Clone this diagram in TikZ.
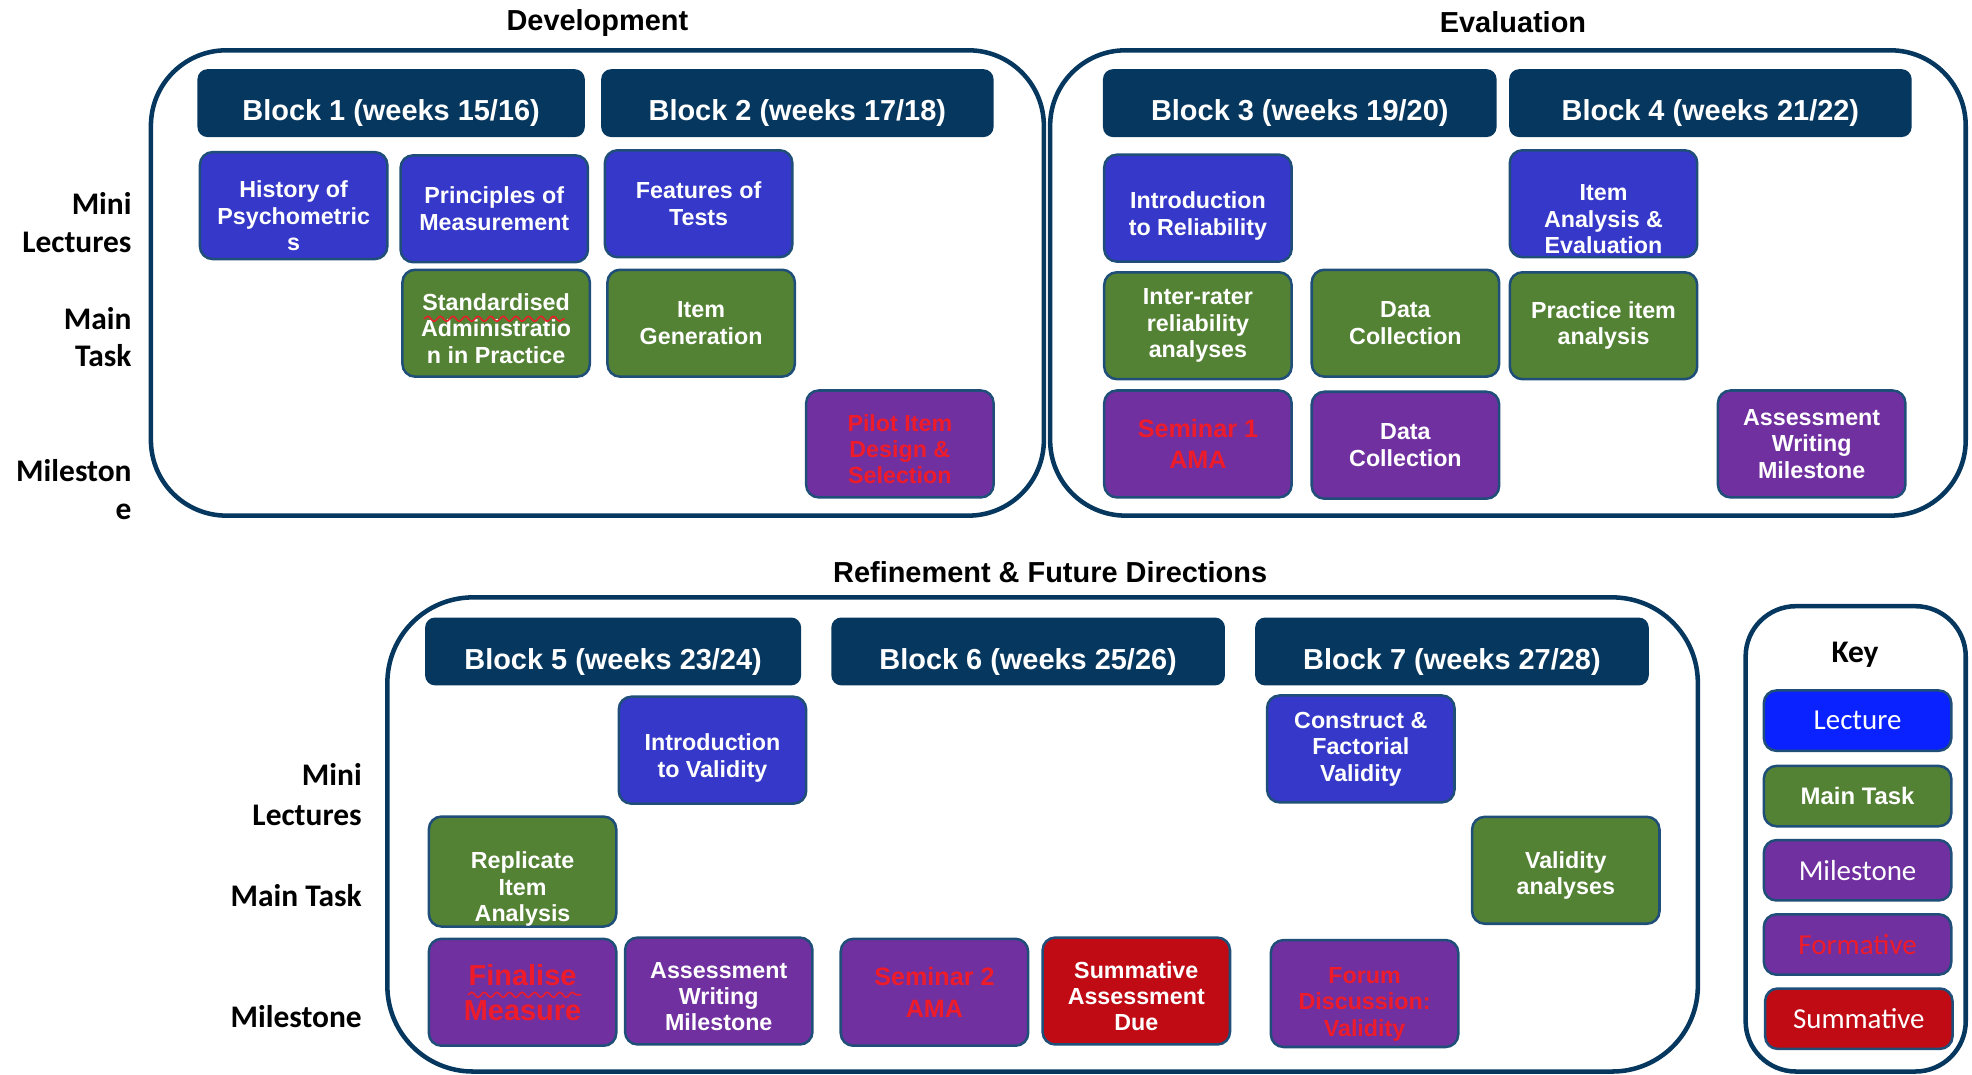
\documentclass[tikz,border=0pt]{standalone}
\usepackage{fontspec}
\setmainfont{Liberation Sans}
\newfontfamily\calibri{Carlito}
\usepackage{xcolor}
\usepackage{tikz}
\usetikzlibrary{positioning, decorations.pathmorphing}
\definecolor{navy}{HTML}{06375E}
\definecolor{lecblue}{HTML}{3538C8}
\definecolor{taskgreen}{HTML}{548235}
\definecolor{mspurple}{HTML}{7030A0}
\definecolor{summred}{HTML}{C00A14}
\definecolor{keyblue}{HTML}{0A22FF}
\definecolor{cardedge}{HTML}{1F4E79}
\definecolor{formred}{HTML}{EE1C2A}
\newcommand{\pushdown}[1]{\rule{0pt}{#1}}
\begin{document}
\begin{tikzpicture}[x=0.5pt, y=-0.5pt]
					\tikzstyle{panel}=[draw=navy, line width=1.8pt, rounded corners=30pt, inner sep=0pt]
					\tikzstyle{block}=[fill=navy, rounded corners=4pt, text=white, font=\bfseries\fontsize{11.5}{13}\selectfont, minimum height=27pt, inner sep=0pt, text height=14pt, text depth=0pt]
					\tikzstyle{card}=[draw=cardedge, line width=1pt, rounded corners=5pt, minimum width=74.5pt, minimum height=42.5pt, inner sep=0pt, align=center, text=white, font=\bfseries\fontsize{9.25}{10.5}\selectfont]
					\tikzstyle{lecture}=[card, fill=lecblue]
					\tikzstyle{task}=[card, fill=taskgreen]
					\tikzstyle{milestone}=[card, fill=mspurple]
					\tikzstyle{formative}=[milestone, text=formred]
					\tikzstyle{summative}=[card, fill=summred]
					\tikzstyle{keybox}=[card, minimum height=24pt, font=\calibri\fontsize{11.5}{13}\selectfont]
					\tikzstyle{rowlabel}=[anchor=east, align=right, inner sep=0pt, font=\calibri\bfseries\fontsize{12.5}{15}\selectfont]
					\tikzstyle{title}=[inner sep=0pt, font=\bfseries\fontsize{11.5}{13}\selectfont]
					\tikzstyle{squiggle}=[draw=formred, line width=0.6pt, decorate, decoration={snake, amplitude=1pt, segment length=5pt}]
					\useasboundingbox (0,0) rectangle (1568,854);
					\node[panel, minimum width=355pt, minimum height=185pt](dev) at (475,225){};
					\node[panel, minimum width=364pt, minimum height=185pt](eval) at (1199,225){};
					\node[panel, minimum width=521pt, minimum height=188.5pt, rounded corners=34pt](refine) at (829,663.5){};
					\node[panel, minimum width=87.5pt, minimum height=185pt, rounded corners=20pt](key) at (1475.5,667){};
					\node[title](devtitle) at (475,18){Development};
					\node[title](evaltitle) at (1203,18){Evaluation};
					\node[title](reftitle) at (835,455){Refinement \& Future Directions};
					\node[rowlabel](mini1) at (105,177){Mini\\Lectures};
					\node[rowlabel](main1) at (105,268){Main\\Task};
					\node[rowlabel](mile1) at (105,389){Mileston\\e};
					\node[rowlabel, font=\calibri\bfseries\fontsize{12.5}{16}\selectfont](mini2) at (288,632){Mini\\Lectures};
					\node[rowlabel](main2) at (288,712){Main Task};
					\node[rowlabel](mile2) at (288,808){Milestone};
					\node[block, minimum width=154pt](b1) at (311,82){Block 1 (weeks 15/16)};
					\node[block, minimum width=156pt](b2) at (634,82){Block 2 (weeks 17/18)};
					\node[block, minimum width=156.5pt](b3) at (1033.5,82){Block 3 (weeks 19/20)};
					\node[block, minimum width=160pt](b4) at (1360,82){Block 4 (weeks 21/22)};
					\node[block, minimum width=149.5pt](b5) at (487.5,518){Block 5 (weeks 23/24)};
					\node[block, minimum width=156.5pt](b6) at (817.5,518){Block 6 (weeks 25/26)};
					\node[block, minimum width=156.5pt](b7) at (1154.5,518){Block 7 (weeks 27/28)};
					\node[lecture](hist) at (233.5,163.5){\pushdown{14.8pt}History of\\Psychometric\\s};
					\node[lecture](princ) at (393,166){Principles of\\Measurement};
					\node[lecture](feat) at (555.5,162){Features of\\Tests};
					\node[task](stand) at (394.5,257){\pushdown{10.8pt}Standardised\\Administratio\\n in Practice};
					\node[task](itemgen) at (557.5,257){Item\\Generation};
					\node[formative](pilot) at (715.5,353){\pushdown{10.8pt}Pilot Item\\Design \&\\Selection};
					\node[lecture](introrel) at (952.5,165.5){\pushdown{12.8pt}Introduction\\to Reliability};
					\node[lecture](itemeval) at (1275,162){\pushdown{18.8pt}Item\\Analysis \&\\Evaluation};
					\node[task](inter) at (952.5,259){Inter-rater\\reliability\\analyses};
					\node[task](datatask) at (1117.5,257){Data\\Collection};
					\node[task](practice) at (1275,259){Practice item\\analysis};
					\node[formative, font=\bfseries\fontsize{10}{12.5}\selectfont](seminarA) at (952.5,353){Seminar 1\\AMA};
					\node[milestone](datams) at (1117.5,354){Data\\Collection};
					\node[milestone](writeA) at (1440.5,353){Assessment\\Writing\\Milestone};
					\node[lecture](introval) at (566.5,596.5){\pushdown{12.8pt}Introduction\\to Validity};
					\node[lecture](construct) at (1082,595.5){Construct \&\\Factorial\\Validity};
					\node[task](replicate) at (415.5,693){\pushdown{20.8pt}Replicate\\Item\\Analysis};
					\node[task](validan) at (1245,692){\pushdown{10.8pt}Validity\\analyses};
					\node[formative, font=\bfseries\fontsize{11.5}{14}\selectfont](finalise) at (415.5,789){Finalise\\Measure};
					\node[milestone](writeB) at (571.5,788){\pushdown{10.8pt}Assessment\\Writing\\Milestone};
					\node[formative, font=\bfseries\fontsize{10}{12.5}\selectfont](seminarB) at (743,789){Seminar 2\\AMA};
					\node[summative](summdue) at (903.5,788){\pushdown{10.8pt}Summative\\Assessment\\Due};
					\node[formative](forum) at (1085,790){\pushdown{14.8pt}Forum\\Discussion:\\Validity};
					\node[title, font=\calibri\bfseries\fontsize{12.5}{14}\selectfont](keytitle) at (1475,521){Key};
					\node[keybox, fill=keyblue](klecture) at (1477,573){Lecture};
					\node[keybox, fill=taskgreen, font=\bfseries\fontsize{9.5}{11}\selectfont](ktask) at (1477,633){Main Task};
					\node[keybox, fill=mspurple](kmile) at (1477,692){Milestone};
					\node[keybox, fill=mspurple, text=formred](kform) at (1477,751){Formative};
					\node[keybox, fill=summred](ksumm) at (1478,810){Summative};
					\path[squiggle] (337,253.5) -- (449,253.5);
					\path[squiggle] (372,791) -- (462,791);
				\end{tikzpicture}
\end{document}
